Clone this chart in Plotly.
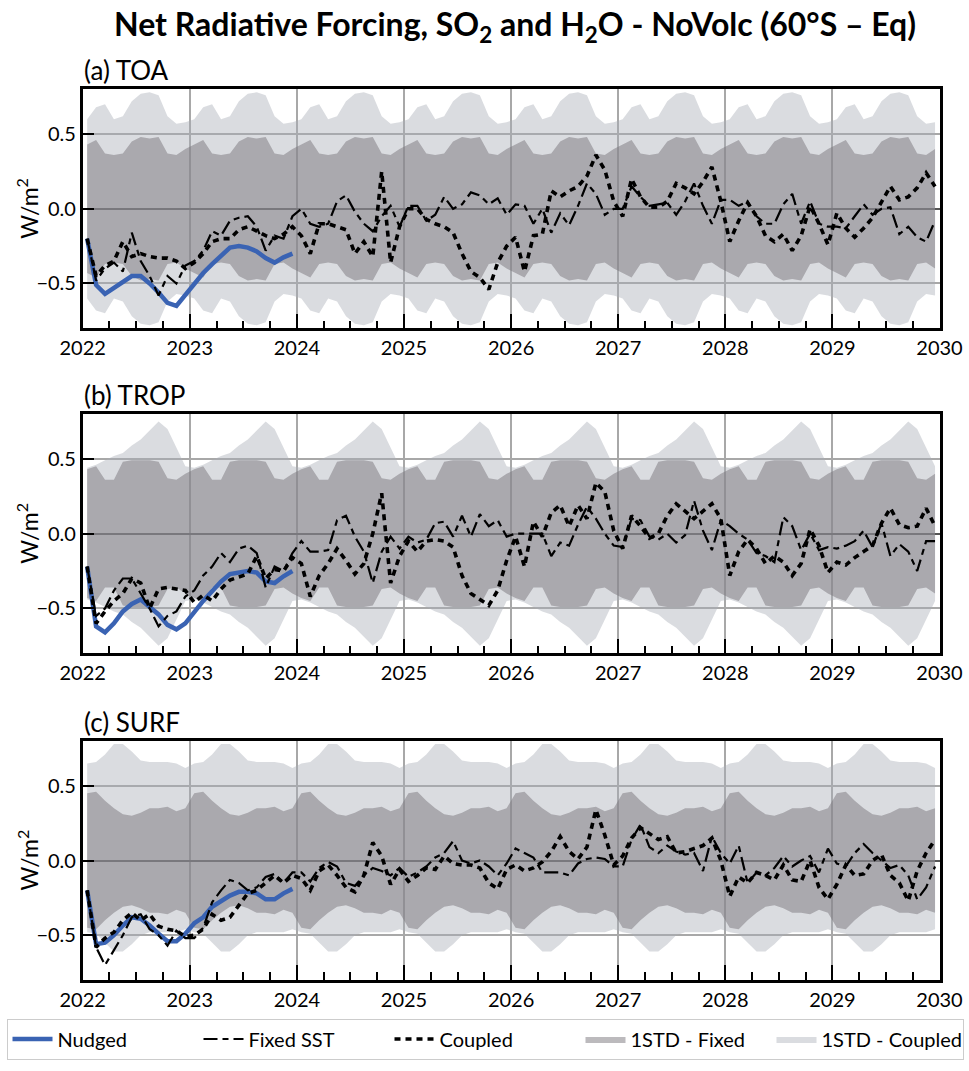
import numpy as np
import plotly.graph_objects as go

# ---------------- data (monthly, Jan 2022 - Dec 2029) ----------------
years = list(range(2022, 2031))
month_index = np.arange(96)
time = 2022 + (month_index + 0.5) / 12.0

# ---- (a) TOA ----
toa_nudged = [-0.20, -0.51, -0.57, -0.53, -0.49, -0.45, -0.45, -0.50, -0.56, -0.63, -0.65, -0.575,
              -0.50, -0.43, -0.37, -0.31, -0.26, -0.25, -0.26, -0.285, -0.33, -0.36, -0.325, -0.30]
toa_fixed = [-0.20, -0.48, -0.40, -0.36, -0.42, -0.16, -0.35, -0.45, -0.58, -0.45, -0.50, -0.38,
             -0.35, -0.28, -0.15, -0.18, -0.08, -0.06, -0.05, -0.12, -0.28, -0.18, -0.20, -0.05,
             0.00, -0.10, -0.12, -0.10, 0.05, 0.09, -0.02, -0.10, -0.15, -0.05, 0.02, -0.12,
             0.02, 0.02, -0.08, -0.04, 0.08, 0.00, 0.03, 0.11, 0.09, 0.03, 0.07, -0.04,
             0.03, 0.02, -0.10, 0.00, -0.16, -0.03, -0.11, 0.02, 0.17, 0.10, -0.04, 0.00,
             0.00, 0.15, 0.08, 0.02, 0.03, 0.04, -0.04, 0.05, 0.17, 0.02, -0.10, 0.06,
             0.06, 0.02, 0.05, -0.05, -0.10, -0.10, 0.03, 0.10, -0.10, 0.05, -0.10, -0.12,
             -0.12, -0.13, -0.05, 0.03, -0.04, 0.00, 0.01, -0.17, -0.12, -0.19, -0.22, -0.08]
toa_coupled = [-0.20, -0.45, -0.38, -0.35, -0.22, -0.32, -0.30, -0.32, -0.33, -0.33, -0.35, -0.40,
               -0.36, -0.30, -0.22, -0.20, -0.20, -0.14, -0.12, -0.15, -0.18, -0.20, -0.17, -0.12,
               -0.18, -0.30, -0.10, -0.10, -0.12, -0.14, -0.30, -0.22, -0.32, 0.25, -0.36, -0.12,
               0.00, 0.00, -0.07, -0.10, -0.12, -0.16, -0.30, -0.42, -0.46, -0.54, -0.36, -0.25,
               -0.19, -0.42, -0.18, -0.17, 0.12, 0.08, 0.12, 0.15, 0.22, 0.36, 0.26, 0.05,
               -0.05, 0.20, 0.08, 0.01, 0.01, 0.05, 0.17, 0.14, 0.10, 0.18, 0.28, 0.05,
               -0.22, -0.08, 0.04, -0.05, -0.18, -0.22, -0.17, -0.28, -0.18, 0.02, -0.10, -0.24,
               -0.03, -0.13, -0.19, -0.13, -0.06, 0.05, 0.15, 0.06, 0.08, 0.14, 0.24, 0.15]
toa_fixed_hi = [0.43, 0.46, 0.37, 0.36, 0.37, 0.45, 0.48, 0.47, 0.48, 0.37, 0.36, 0.40]
toa_fixed_lo = [-0.43, -0.46, -0.37, -0.36, -0.37, -0.45, -0.48, -0.47, -0.48, -0.37, -0.36, -0.40]
toa_coupled_hi = [0.60, 0.68, 0.70, 0.60, 0.62, 0.72, 0.77, 0.78, 0.76, 0.62, 0.57, 0.58]
toa_coupled_lo = [-0.60, -0.68, -0.70, -0.60, -0.62, -0.72, -0.77, -0.78, -0.76, -0.62, -0.57, -0.58]

# ---- (b) TROP ----
trop_nudged = [-0.22, -0.62, -0.66, -0.60, -0.52, -0.47, -0.44, -0.49, -0.54, -0.61, -0.64, -0.60,
               -0.52, -0.45, -0.385, -0.32, -0.27, -0.26, -0.25, -0.26, -0.32, -0.33, -0.285, -0.25]
trop_fixed = [-0.22, -0.55, -0.50, -0.38, -0.30, -0.30, -0.40, -0.50, -0.62, -0.55, -0.52, -0.42,
              -0.38, -0.28, -0.22, -0.13, -0.19, -0.10, -0.08, -0.13, -0.36, -0.22, -0.25, -0.13,
              -0.05, -0.12, -0.12, -0.11, 0.09, 0.12, -0.02, -0.12, -0.33, -0.12, -0.02, -0.10,
              -0.02, -0.06, -0.04, 0.07, 0.08, -0.02, 0.12, -0.02, 0.13, 0.05, 0.09, -0.02,
              0.00, 0.00, 0.00, 0.00, -0.15, -0.06, -0.08, 0.06, 0.18, 0.10, 0.00, -0.08,
              -0.09, 0.10, 0.09, -0.02, -0.04, 0.00, -0.06, -0.01, 0.22, 0.02, -0.11, 0.09,
              0.05, 0.00, -0.04, -0.13, -0.15, -0.19, 0.11, 0.05, -0.11, 0.00, -0.11, -0.09,
              -0.10, -0.08, -0.05, 0.02, -0.09, 0.07, -0.15, -0.07, -0.12, -0.25, -0.05, -0.05]
trop_coupled = [-0.22, -0.60, -0.52, -0.45, -0.40, -0.30, -0.33, -0.50, -0.37, -0.36, -0.37, -0.38,
                -0.46, -0.41, -0.45, -0.37, -0.31, -0.29, -0.27, -0.15, -0.30, -0.24, -0.25, -0.16,
                -0.20, -0.42, -0.28, -0.20, -0.10, -0.18, -0.27, -0.20, 0.00, 0.27, -0.33, -0.15,
                -0.05, -0.12, -0.05, -0.04, -0.05, -0.09, -0.28, -0.40, -0.44, -0.48, -0.38, -0.18,
                -0.02, -0.22, 0.08, -0.02, 0.14, 0.19, 0.05, 0.19, 0.10, 0.34, 0.28, 0.02,
                -0.10, 0.12, 0.05, -0.03, 0.00, 0.12, 0.20, 0.15, 0.10, 0.15, 0.20, 0.10,
                -0.28, -0.12, -0.04, -0.10, -0.20, -0.15, -0.19, -0.28, -0.20, 0.03, -0.08, -0.26,
                -0.19, -0.21, -0.16, -0.12, -0.08, 0.07, 0.17, 0.06, 0.04, 0.05, 0.17, 0.05]
trop_fixed_hi = [0.43, 0.45, 0.36, 0.36, 0.48, 0.49, 0.49, 0.49, 0.48, 0.37, 0.36, 0.40]
trop_fixed_lo = [-0.43, -0.45, -0.36, -0.36, -0.48, -0.49, -0.49, -0.49, -0.48, -0.37, -0.36, -0.40]
trop_coupled_hi = [0.44, 0.46, 0.49, 0.52, 0.54, 0.59, 0.63, 0.69, 0.75, 0.70, 0.57, 0.45]
trop_coupled_lo = [-0.44, -0.46, -0.49, -0.52, -0.54, -0.59, -0.63, -0.69, -0.75, -0.70, -0.57, -0.45]

# ---- (c) SURF ----
surf_nudged = [-0.20, -0.56, -0.55, -0.50, -0.435, -0.38, -0.39, -0.435, -0.49, -0.54, -0.54, -0.49,
               -0.42, -0.38, -0.31, -0.27, -0.235, -0.21, -0.21, -0.22, -0.26, -0.26, -0.22, -0.19]
surf_fixed = [-0.20, -0.58, -0.70, -0.60, -0.50, -0.38, -0.36, -0.46, -0.50, -0.57, -0.47, -0.52,
              -0.52, -0.45, -0.28, -0.20, -0.13, -0.15, -0.20, -0.18, -0.11, -0.09, -0.15, -0.08,
              -0.08, -0.14, -0.05, -0.01, -0.04, -0.15, -0.17, -0.10, -0.05, -0.07, -0.10, -0.05,
              -0.11, -0.08, -0.04, 0.02, 0.05, 0.13, 0.00, -0.02, 0.00, -0.04, -0.10, -0.02,
              0.08, 0.05, 0.02, -0.08, -0.08, -0.08, -0.10, -0.02, 0.01, 0.02, 0.01, -0.04,
              -0.04, 0.14, 0.24, 0.09, 0.05, 0.10, 0.06, 0.04, 0.05, -0.07, 0.16, 0.05,
              -0.02, 0.10, -0.15, -0.08, -0.10, -0.05, 0.03, -0.04, 0.00, 0.03, -0.08, 0.08,
              -0.02, -0.04, 0.05, 0.11, 0.05, 0.00, -0.05, -0.03, -0.10, -0.26, -0.18, -0.04]
surf_coupled = [-0.20, -0.58, -0.52, -0.48, -0.40, -0.35, -0.40, -0.36, -0.44, -0.46, -0.47, -0.51,
                -0.50, -0.46, -0.36, -0.40, -0.38, -0.30, -0.22, -0.20, -0.15, -0.10, -0.15, -0.10,
                -0.12, -0.20, -0.07, -0.03, -0.10, -0.18, -0.21, -0.10, 0.12, 0.03, -0.16, -0.06,
                -0.14, -0.10, -0.05, -0.06, 0.03, -0.02, -0.03, -0.03, -0.05, -0.15, -0.19, -0.06,
                -0.03, -0.07, -0.05, -0.01, 0.06, 0.16, 0.06, 0.01, 0.09, 0.34, 0.17, -0.03,
                0.03, 0.15, 0.22, 0.18, 0.14, 0.16, 0.05, 0.06, 0.08, 0.10, 0.15, 0.00,
                -0.24, -0.11, -0.15, -0.08, -0.10, -0.13, -0.03, -0.13, -0.14, 0.00, -0.18, -0.26,
                -0.16, -0.03, -0.10, -0.09, 0.00, 0.04, -0.10, -0.15, -0.27, -0.07, 0.05, 0.14]
surf_fixed_hi = [0.45, 0.46, 0.40, 0.35, 0.31, 0.30, 0.32, 0.35, 0.35, 0.36, 0.33, 0.35]
surf_fixed_lo = [-0.45, -0.46, -0.40, -0.35, -0.31, -0.30, -0.32, -0.35, -0.35, -0.36, -0.33, -0.35]
surf_coupled_hi = [0.65, 0.66, 0.71, 0.78, 0.78, 0.73, 0.67, 0.66, 0.66, 0.66, 0.65, 0.62]
surf_coupled_lo = [-0.48, -0.49, -0.55, -0.61, -0.61, -0.56, -0.50, -0.48, -0.48, -0.48, -0.48, -0.46]

panel_labels = ["(a) TOA", "(b) TROP", "(c) SURF"]
y_ticks = [-0.5, 0.0, 0.5]

panels = [
    (toa_nudged, toa_fixed, toa_coupled, toa_fixed_hi, toa_fixed_lo, toa_coupled_hi, toa_coupled_lo),
    (trop_nudged, trop_fixed, trop_coupled, trop_fixed_hi, trop_fixed_lo, trop_coupled_hi, trop_coupled_lo),
    (surf_nudged, surf_fixed, surf_coupled, surf_fixed_hi, surf_fixed_lo, surf_coupled_hi, surf_coupled_lo),
]

# ---------------- style ----------------
W, H = 969, 1071
FONT = "Lato"
BLUE = "#3a63b3"
LIGHT = "rgba(170,175,182,0.43)"
DARK = "rgba(121,117,124,0.5)"
GRID = "#a8a8a8"

x0, x1 = 82.7 / W, 939.5 / W
ydoms = [(1 - 328.3 / H, 1 - 89.3 / H), (1 - 653.3 / H, 1 - 414 / H), (1 - 980 / H, 1 - 741 / H)]

fig = go.Figure()
n_years = len(years) - 1

for i, (nud, fix, cpl, fhi, flo, chi, clo) in enumerate(panels):
    xa = "x" if i == 0 else f"x{i+1}"
    ya = "y" if i == 0 else f"y{i+1}"
    first = i == 0
    # coupled band
    fig.add_trace(go.Scatter(x=time, y=np.tile(clo, n_years), mode="lines", line=dict(width=0),
                             showlegend=False, hoverinfo="skip", xaxis=xa, yaxis=ya))
    fig.add_trace(go.Scatter(x=time, y=np.tile(chi, n_years), mode="lines", line=dict(width=0),
                             fill="tonexty", fillcolor=LIGHT, name="1STD - Coupled",
                             legendgroup="cstd", showlegend=first, legendrank=5,
                             hoverinfo="skip", xaxis=xa, yaxis=ya))
    # fixed band
    fig.add_trace(go.Scatter(x=time, y=np.tile(flo, n_years), mode="lines", line=dict(width=0),
                             showlegend=False, hoverinfo="skip", xaxis=xa, yaxis=ya))
    fig.add_trace(go.Scatter(x=time, y=np.tile(fhi, n_years), mode="lines", line=dict(width=0),
                             fill="tonexty", fillcolor=DARK, name="1STD - Fixed",
                             legendgroup="fstd", showlegend=first, legendrank=4,
                             hoverinfo="skip", xaxis=xa, yaxis=ya))
    # nudged
    fig.add_trace(go.Scatter(x=time[:len(nud)], y=nud, mode="lines", line=dict(color=BLUE, width=4.5),
                             name="Nudged", legendgroup="nud", showlegend=first, legendrank=1,
                             xaxis=xa, yaxis=ya))
    # fixed SST
    fig.add_trace(go.Scatter(x=time, y=fix, mode="lines",
                             line=dict(color="black", width=2.2, dash="14px,5px,6px,5px"),
                             name="Fixed SST", legendgroup="fix", showlegend=first, legendrank=2,
                             xaxis=xa, yaxis=ya))
    # coupled
    fig.add_trace(go.Scatter(x=time, y=cpl, mode="lines",
                             line=dict(color="black", width=3.6, dash="6px,5px"),
                             name="Coupled", legendgroup="cpl", showlegend=first, legendrank=3,
                             xaxis=xa, yaxis=ya))

layout = dict(
    width=W, height=H,
    margin=dict(l=0, r=0, t=0, b=0, autoexpand=False),
    paper_bgcolor="white", plot_bgcolor="white",
    font=dict(family=FONT, size=20, color="black"),
    title=dict(text="<b>Net Radiative Forcing, SO<sub>2</sub> and H<sub>2</sub>O - NoVolc (60°S – Eq)</b>",
               x=515 / W, xanchor="center", y=1 - 25 / H, yanchor="middle",
               font=dict(family=FONT, size=32, color="black")),
    legend=dict(orientation="h", x=485 / W, xanchor="center", y=1 - 1039 / H, yanchor="middle",
                bordercolor="#cccccc", borderwidth=1, bgcolor="white",
                font=dict(family=FONT, size=20), entrywidth=136, entrywidthmode="pixels",
                traceorder="normal", itemwidth=40),
    showlegend=True,
    annotations=[],
)

for i in range(3):
    xk = "xaxis" if i == 0 else f"xaxis{i+1}"
    yk = "yaxis" if i == 0 else f"yaxis{i+1}"
    ya = "y" if i == 0 else f"y{i+1}"
    xa = "x" if i == 0 else f"x{i+1}"
    layout[xk] = dict(domain=[x0, x1], anchor=ya, range=[years[0], years[-1]], automargin=False,
                      tickmode="array", tickvals=years, ticktext=[str(y) for y in years],
                      ticks="inside", ticklen=15, tickwidth=2, tickcolor="black",
                      showgrid=True, gridcolor=GRID, gridwidth=2,
                      showline=True, linecolor="black", linewidth=2.5, mirror=True,
                      zeroline=False, tickfont=dict(size=20),
                      minor=dict(dtick=0.25, tick0=2022, ticks="inside", ticklen=8,
                                 tickwidth=1.5, tickcolor="black", showgrid=False))
    layout[yk] = dict(domain=list(ydoms[i]), anchor=xa, range=[-0.8, 0.8], automargin=False,
                      tickmode="array", tickvals=y_ticks, tickformat=".1f",
                      ticks="inside", ticklen=12, tickwidth=2, tickcolor="black",
                      showgrid=True, gridcolor=GRID, gridwidth=2,
                      zeroline=True, zerolinecolor="#555555", zerolinewidth=2,
                      showline=True, linecolor="black", linewidth=2.5, mirror=True,
                      tickfont=dict(size=20))
    layout["annotations"].append(dict(text=panel_labels[i], xref="paper", yref="paper",
                                      x=x0 - 0.001, y=ydoms[i][1], xanchor="left", yanchor="bottom",
                                      yshift=1, showarrow=False,
                                      font=dict(family=FONT, size=26, color="black")))
    layout["annotations"].append(dict(text="W/m<sup>2</sup>", xref="paper", yref="paper",
                                      x=28 / W, y=(ydoms[i][0] + ydoms[i][1]) / 2,
                                      xanchor="center", yanchor="middle", textangle=-90,
                                      showarrow=False, font=dict(family=FONT, size=23, color="black")))

fig.update_layout(**layout)
fig.write_html("out.html")
